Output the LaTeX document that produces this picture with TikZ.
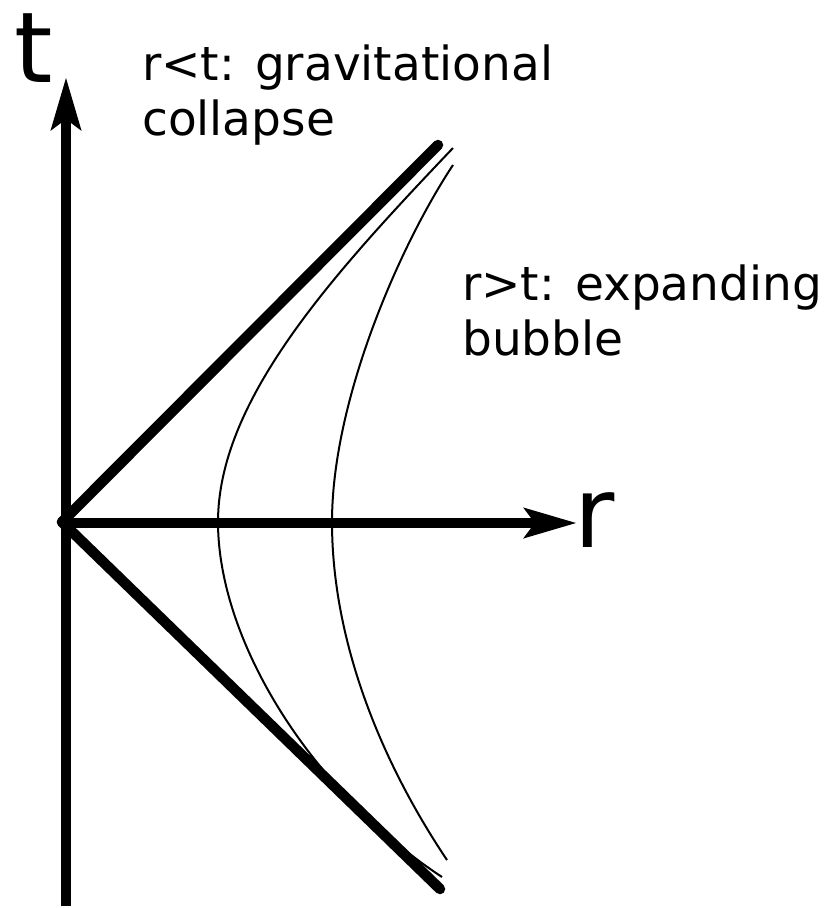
\documentclass[tikz,border=0pt]{standalone}
\usepackage{fontspec}
\setmainfont{DejaVu Sans}
\usetikzlibrary{arrows.meta}
\begin{document}
\begin{tikzpicture}[x=1pt,y=-1pt,
  axis/.style={line width=10.5pt,-{Stealth[length=52pt,width=29pt,inset=10pt]}},
  cone/.style={line width=10.5pt,line cap=round},
  worldline/.style={line width=2pt},
  label/.style={inner sep=0pt,anchor=base west,align=left,font=\fontsize{47}{55}\selectfont},
  axlabel/.style={inner sep=0pt,anchor=base west,font=\fontsize{98}{110}\selectfont}]
\useasboundingbox (0,0) rectangle (831,908);
\coordinate (O) at (62,522);
\coordinate (tbot) at (66,906);
\coordinate (ttop) at (66,77);
\coordinate (rleft) at (62,523);
\coordinate (rright) at (577,523);
\coordinate (cup) at (438,145);
\coordinate (cdown) at (440,889);
\coordinate (ia) at (453,148);
\coordinate (iv) at (218,522);
\coordinate (ib) at (442,877);
\coordinate (oa) at (453,165);
\coordinate (ov) at (332,522);
\coordinate (ob) at (447,860);
% axes
\draw[axis] (tbot) -- (ttop);
\draw[axis] (rleft) -- (rright);
% light cone
\draw[cone] (O) -- (cup);
\draw[cone] (O) -- (cdown);
% world lines
\draw[worldline] (ia) .. controls (333,274) and (218,400) .. (iv)
  .. controls (218,640) and (310,790) .. (ib);
\draw[worldline] (oa) .. controls (400,245) and (332,400) .. (ov)
  .. controls (332,640) and (380,760) .. (ob);
% labels
\node[axlabel] (tlab) at (14,82) {t};
\node[axlabel] (rlab) at (574,547) {r};
\node[label] (collapse) at (142,135) {r<t: gravitational\\collapse};
\node[label] (bubble) at (462,355) {r>t: expanding\\bubble};
\end{tikzpicture}
\end{document}
